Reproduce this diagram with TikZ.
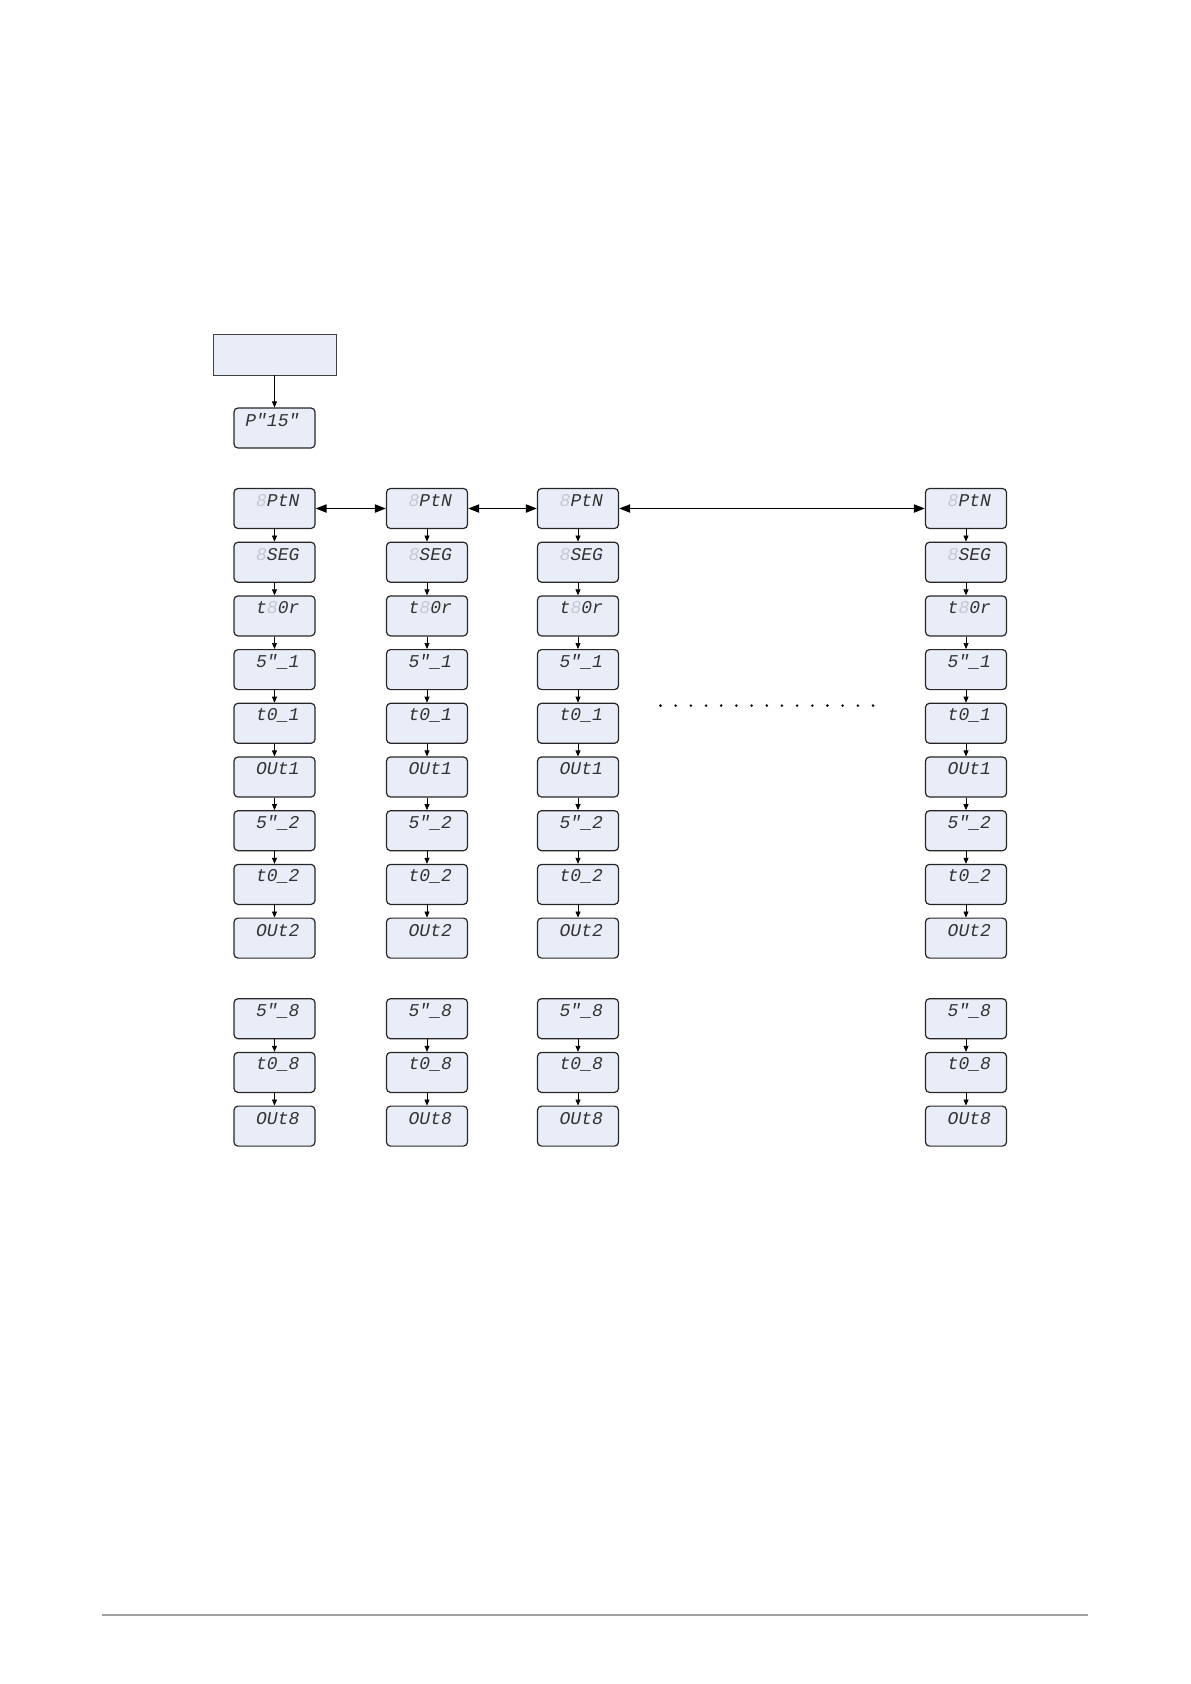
\documentclass[tikz,border=0pt]{standalone}
\usepackage{fontspec}
\newfontfamily\lcdfont{Liberation Mono}
\usetikzlibrary{arrows.meta,calc}
\definecolor{lcdfill}{HTML}{E9EDF8}
\definecolor{ghost}{HTML}{C4C8D4}
\definecolor{rulegray}{HTML}{A0A0A0}
\begin{document}
\begin{tikzpicture}[x=1pt,y=-1pt,
  disp/.style={draw=black!85, line width=1.2pt, fill=lcdfill, rounded corners=4pt,
    minimum width=81pt, minimum height=40pt, inner sep=0pt},
  startbox/.style={draw=black!75, line width=0.8pt, fill=lcdfill,
    minimum width=123pt, minimum height=41pt, inner sep=0pt},
  lcd/.style={font=\lcdfont\itshape\fontsize{18}{18}\selectfont, inner sep=0pt, text=black!80, anchor=east},
  varr/.style={-{Triangle[length=6pt,width=5pt]}, line width=0.7pt},
  harr/.style={{Triangle[length=11pt,width=8pt]}-{Triangle[length=11pt,width=8pt]}, line width=1.9pt}]
\useasboundingbox (0,0) rectangle (1191,1684);

% start
\node[startbox] (start) at (274.5,354.5) {};
\node[disp] (pusu) at (274.5,428) {};
\node[lcd] (pusut) at ($(pusu.east)+(-16,-8)$) {P"15"};
\draw[varr] (start.south) -- (pusu.north);

% columns
\foreach \c/\x in {1/274.5,2/427,3/578,4/966}{
  \foreach \r/\y/\t in {
     1/508.5/{{\color{ghost}8}PtN},
     2/562.2/{{\color{ghost}8}SEG},
     3/615.9/{t{\color{ghost}8}0r},
     4/669.6/{5"\_1},
     5/723.3/{t0\_1},
     6/777.0/{OUt1},
     7/830.7/{5"\_2},
     8/884.4/{t0\_2},
     9/938.1/{OUt2},
     10/1018.7/{5"\_8},
     11/1072.4/{t0\_8},
     12/1126.1/{OUt8}}{
    \node[disp] (c\c r\r) at (\x,\y) {};
    \node[lcd] (c\c r\r t) at ($(c\c r\r.east)+(-16,-8)$) {\t};
  }
  \foreach \a/\b in {1/2,2/3,3/4,4/5,5/6,6/7,7/8,8/9,10/11,11/12}{
    \draw[varr] (c\c r\a.south) -- (c\c r\b.north);
  }
}

% horizontal double arrows
\draw[harr] (c1r1.east) -- (c2r1.west);
\draw[harr] (c2r1.east) -- (c3r1.west);
\draw[harr] (c3r1.east) -- (c4r1.west);

% dots
\foreach \k in {0,...,14}{
  \fill (660.5+\k*15.18,705.6) circle (1.4pt);
}

% bottom rule
\coordinate (ruleL) at (102,1615);
\coordinate (ruleR) at (1088,1615);
\draw[rulegray, line width=2.5pt] (ruleL) -- (ruleR);
\end{tikzpicture}
\end{document}
